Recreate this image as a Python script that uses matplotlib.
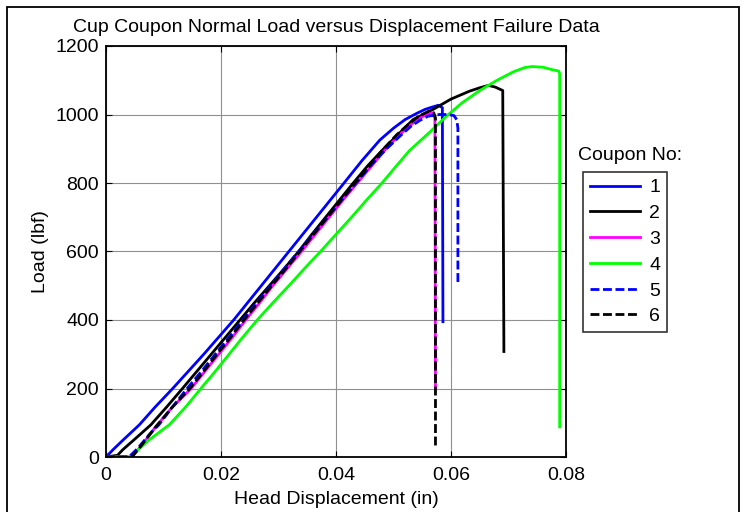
import matplotlib
matplotlib.use("Agg")
import matplotlib.pyplot as plt
from matplotlib.patches import Rectangle

plt.rcParams['font.family'] = ['Liberation Sans', 'DejaVu Sans']
plt.rcParams['font.size'] = 14

# coupon 1 (blue solid)
x1 = [0, 0.0012, 0.003, 0.0058, 0.0085, 0.0116, 0.0143, 0.017, 0.0196, 0.0222, 0.0246,
      0.027, 0.0294, 0.0318, 0.0342, 0.0366, 0.039, 0.0414, 0.0445, 0.0476, 0.050, 0.052,
      0.054, 0.0555, 0.0568, 0.0578, 0.0585, 0.0586]
y1 = [0, 21, 50, 94, 145, 200, 250, 300, 350, 400, 450, 500, 550, 600, 650, 700, 750, 800,
      865, 925, 960, 985, 1003, 1015, 1022, 1027, 1020, 395]
# coupon 2 (black solid)
x2 = [0, 0.002, 0.0029, 0.0052, 0.0078, 0.0105, 0.0133, 0.0158, 0.0183, 0.0208, 0.0233,
      0.0258, 0.0284, 0.031, 0.0335, 0.0358, 0.0382, 0.0406, 0.043, 0.0455, 0.048, 0.051,
      0.0534, 0.0569, 0.060, 0.0632, 0.065, 0.0665, 0.0677, 0.069, 0.0692]
y2 = [0, 5, 21, 55, 94, 145, 200, 250, 300, 350, 400, 450, 500, 550, 600, 650, 700, 750,
      800, 850, 895, 945, 985, 1015, 1045, 1068, 1078, 1085, 1080, 1070, 308]
# coupon 3 (magenta solid)
x3 = [0, 0.0045, 0.006, 0.0085, 0.0115, 0.0148, 0.0172, 0.0196, 0.022, 0.0243, 0.0267,
      0.029, 0.0315, 0.034, 0.0364, 0.0388, 0.0412, 0.0437, 0.0462, 0.0487, 0.051, 0.053,
      0.0545, 0.0555, 0.0567, 0.0572, 0.0573]
y3 = [0, 0, 30, 85, 145, 200, 250, 300, 350, 400, 450, 500, 550, 600, 650, 700, 750, 800,
      850, 900, 940, 970, 988, 998, 1005, 990, 200]
# coupon 4 (green solid)
x4 = [0, 0.004, 0.0055, 0.0075, 0.011, 0.0138, 0.0165, 0.019, 0.0214, 0.0238, 0.0263,
      0.029, 0.0318, 0.0345, 0.0373, 0.04, 0.0427, 0.0453, 0.048, 0.0505, 0.0528, 0.0564,
      0.0592, 0.062, 0.065, 0.068, 0.0709, 0.0728, 0.0741, 0.076, 0.0778, 0.0787, 0.0789,
      0.0789]
y4 = [0, 0, 20, 50, 94, 145, 200, 250, 300, 350, 400, 450, 500, 550, 600, 650, 700, 750,
      800, 850, 895, 950, 995, 1035, 1070, 1100, 1125, 1137, 1140, 1138, 1130, 1127, 1120,
      88]
# coupon 5 (blue dashed)
x5 = [0, 0.004, 0.0055, 0.0075, 0.0092, 0.0115, 0.0141, 0.0166, 0.019, 0.0214, 0.0238,
      0.0262, 0.0286, 0.031, 0.0335, 0.036, 0.0385, 0.041, 0.0435, 0.046, 0.0485, 0.051,
      0.053, 0.0546, 0.056, 0.058, 0.0595, 0.0605, 0.061, 0.0612, 0.0612]
y5 = [0, 0, 25, 65, 94, 145, 200, 250, 300, 350, 400, 450, 500, 550, 600, 650, 700, 750,
      800, 850, 895, 935, 965, 983, 995, 1000, 1000, 997, 985, 960, 510]
# coupon 6 (black dashed)
x6 = [0, 0.0045, 0.006, 0.0085, 0.0115, 0.0146, 0.017, 0.0193, 0.0217, 0.024, 0.0264,
      0.0288, 0.0313, 0.0337, 0.0361, 0.0385, 0.0409, 0.0433, 0.0458, 0.0483, 0.0505,
      0.0525, 0.054, 0.055, 0.0562, 0.057, 0.0573, 0.0573]
y6 = [0, 0, 30, 85, 145, 200, 250, 300, 350, 400, 450, 500, 550, 600, 650, 700, 750, 800,
      850, 900, 940, 970, 990, 1000, 1010, 1005, 990, 30]

labels = ['1', '2', '3', '4', '5', '6']
series = [(x1, y1, '#0000ff', '-'), (x2, y2, '#000000', '-'), (x3, y3, '#ff00ff', '-'),
          (x4, y4, '#00ff00', '-'), (x5, y5, '#0000ff', '--'), (x6, y6, '#000000', '--')]

W, H = 743, 512
fig = plt.figure(figsize=(W / 100, H / 100), dpi=100)
ax = fig.add_axes([106 / W, 1 - 457 / H, 460 / W, 411 / H])

for (xs, ys, c, ls), lab in zip(series, labels):
    ln, = ax.plot(xs, ys, color=c, linewidth=2.0, label=lab)
    if ls == '--':
        ln.set_dashes((3.2, 1.3))

ax.set_xlim(0, 0.08)
ax.set_ylim(0, 1200)
ax.set_xticks([0, 0.02, 0.04, 0.06, 0.08])
ax.set_xticklabels(['0', '0.02', '0.04', '0.06', '0.08'])
ax.set_yticks(range(0, 1201, 200))
ax.grid(True, color='#909090', linewidth=0.8)
ax.tick_params(direction='in', top=True, right=True, length=4, labelsize=14)
ax.tick_params(axis='x', pad=7)
ax.tick_params(axis='y', pad=5)
for s in ax.spines.values():
    s.set_linewidth(1.3)

ax.set_title('Cup Coupon Normal Load versus Displacement Failure Data', fontsize=14, pad=10)
ax.set_xlabel('Head Displacement (in)', fontsize=14, labelpad=5)
ax.set_ylabel('Load (lbf)', fontsize=14, labelpad=5)

leg = ax.legend(loc='upper left', bbox_to_anchor=(583 / W, 1 - 172 / H),
                bbox_transform=fig.transFigure, fontsize=14, frameon=True,
                fancybox=False, edgecolor='black', handlelength=2.6,
                labelspacing=0.42, borderpad=0.35, handletextpad=0.45, borderaxespad=0)
leg.get_frame().set_linewidth(1.2)
fig.text(578 / W, 1 - 156 / H, 'Coupon No:', fontsize=14, va='center', ha='left')

fig.patches.append(Rectangle((7 / W, -0.02), 732 / W, 1 - 7 / H + 0.02,
                             transform=fig.transFigure, fill=False,
                             edgecolor='black', linewidth=1.3))

fig.savefig('out.png', dpi=100)
